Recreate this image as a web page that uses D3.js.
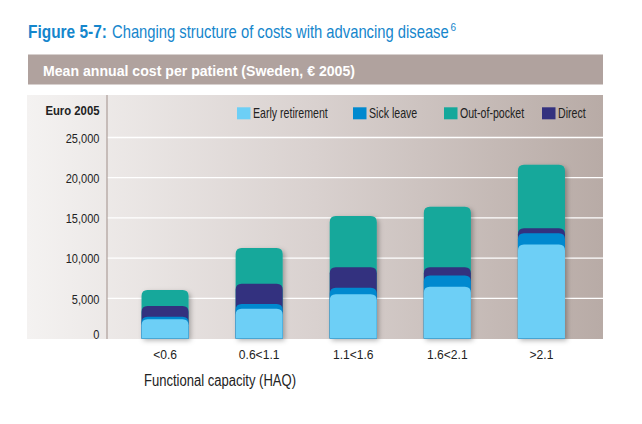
<!DOCTYPE html>
<html><head><meta charset="utf-8">
<script src="https://cdn.jsdelivr.net/npm/d3@7"></script>
<style>
html,body{margin:0;padding:0;background:#fff;}
svg{display:block;}
text{font-family:"Liberation Sans",Arial,sans-serif;}
</style></head>
<body>
<script>
const categories = ["<0.6","0.6<1.1","1.1<1.6","1.6<2.1",">2.1"];
const seriesNames = ["Early retirement","Sick leave","Direct","Out-of-pocket"];
const earlyRetirement = [2400, 3700, 5500, 6450, 11700];
const sickLeave = [300, 600, 800, 1400, 1400];
const direct = [1330, 2500, 2550, 1000, 600];
const outOfPocket = [2000, 4450, 6400, 7550, 7900];
const yTicks = [0, 5000, 10000, 15000, 20000, 25000];
const legendOrder = ["Early retirement","Sick leave","Out-of-pocket","Direct"];
const colors = {"Early retirement":"#6dcff6","Sick leave":"#0089cf","Out-of-pocket":"#14a89b","Direct":"#33317f"};

const W = 642, H = 424;
const svg = d3.select("body").append("svg").attr("width", W).attr("height", H);
const defs = svg.append("defs");
const grad = defs.append("linearGradient").attr("id","bg").attr("x1","0").attr("x2","1").attr("y1","0").attr("y2","0");
grad.append("stop").attr("offset","0").attr("stop-color","#f4f2f1");
grad.append("stop").attr("offset","0.5").attr("stop-color","#d9d1cf");
grad.append("stop").attr("offset","1").attr("stop-color","#b8aba6");
const f = defs.append("filter").attr("id","sh").attr("x","-30%").attr("y","-30%").attr("width","170%").attr("height","170%");
f.append("feDropShadow").attr("dx",2).attr("dy",2).attr("stdDeviation",2.5).attr("flood-color","#000").attr("flood-opacity",0.3);

// condense text horizontally (narrow typeface look)
function condense(sel, k) {
  sel.each(function() {
    const L = this.getComputedTextLength();
    d3.select(this).attr("textLength", L * k).attr("lengthAdjust", "spacingAndGlyphs");
  });
}
// condense via transform so the box matches the drawn glyphs
function squeezeTo(x0, y0, sel, width) {
  const L = sel.node().getComputedTextLength();
  sel.attr("x", 0).attr("y", 0).attr("transform", `translate(${x0},${y0}) scale(${width / L},1)`);
}

// Title
const tA = svg.append("text").attr("fill", "#1586cc").attr("font-size", 17.5).attr("font-weight","bold").text("Figure 5-7:");
squeezeTo(28, 38, tA, 79);
const tB = svg.append("text").attr("fill", "#1586cc").attr("font-size", 17.5).text("Changing structure of costs with advancing disease");
squeezeTo(112, 38, tB, 337);
svg.append("text").attr("x", 450.5).attr("y", 31).attr("fill", "#1586cc").attr("font-size", 10).text("6");

// Header bar
svg.append("rect").attr("x", 28).attr("y", 54.5).attr("width", 575).attr("height", 30).attr("fill", "#b0a29e");
svg.append("text").attr("x", 43).attr("y", 76.3).attr("fill", "#fff").attr("font-size", 15.5).attr("font-weight","bold")
  .text("Mean annual cost per patient (Sweden, € 2005)")
  .attr("textLength", 312).attr("lengthAdjust","spacingAndGlyphs");

// Plot background
const plotL = 27, plotR = 603, plotT = 95, plotB = 339;
svg.append("rect").attr("x", plotL).attr("y", plotT).attr("width", plotR - plotL).attr("height", plotB - plotT).attr("fill", "url(#bg)");

const y = d3.scaleLinear().domain([0, 25000]).range([338.5, 137.5]);
const x = d3.scaleBand().domain(categories).range([118, 588.5]).paddingInner(0.5).paddingOuter(0.25);
const axisX = 107;

// gridlines
svg.append("g").selectAll("line").data(yTicks.filter(d => d > 0)).join("line")
  .attr("x1", axisX).attr("x2", plotR).attr("y1", d => y(d)).attr("y2", d => y(d))
  .attr("stroke", "#fff").attr("stroke-width", 1.3);

// y axis line
svg.append("line").attr("x1", axisX).attr("x2", axisX).attr("y1", plotT).attr("y2", plotB).attr("stroke", "#a08f8a").attr("stroke-width", 1);

// y labels via axis
const yAxis = d3.axisLeft(y).tickValues(yTicks).tickSize(0).tickPadding(0).tickFormat(d3.format(","));
const ya = svg.append("g").attr("transform", `translate(99.5,0)`).call(yAxis);
ya.select(".domain").remove();
ya.selectAll("text").attr("font-size", 12).attr("fill", "#222")
  .attr("font-family", '"Liberation Sans",Arial,sans-serif')
  .attr("dy", d => d === 0 ? "0em" : "0.4em");
condense(ya.selectAll("text"), 0.92);
const eu = svg.append("text").attr("x", 99.5).attr("y", 115).attr("text-anchor","end").attr("font-size", 13).attr("font-weight","bold").attr("fill","#222").text("Euro 2005");
condense(eu, 0.87);

// stacked bars
const data = categories.map((c, i) => ({cat: c, "Early retirement": earlyRetirement[i], "Sick leave": sickLeave[i], "Direct": direct[i], "Out-of-pocket": outOfPocket[i]}));
const stack = d3.stack().keys(seriesNames)(data);
const r = 6;
function roundTop(x0, y0, w, yb) {
  const rr = Math.min(r, (yb - y0));
  return `M${x0},${yb}V${y0 + rr}Q${x0},${y0} ${x0 + rr},${y0}H${x0 + w - rr}Q${x0 + w},${y0} ${x0 + w},${y0 + rr}V${yb}Z`;
}
const barsG = svg.append("g");
const order = stack.slice().reverse();
categories.forEach((c, i) => {
  const g = barsG.append("g");
  order.forEach((s, k) => {
    const d = s[i];
    g.append("path")
      .attr("d", roundTop(x(c), y(d[1]), x.bandwidth(), y(0)))
      .attr("fill", colors[s.key])
      .attr("filter", k === 0 ? "url(#sh)" : null);
  });
});

// x labels
const xa = svg.append("g").attr("transform", `translate(0,${plotB})`).call(d3.axisBottom(x).tickSize(0).tickPadding(10.5));
xa.select(".domain").remove();
xa.selectAll("text").attr("font-size", 13).attr("fill", "#222").attr("font-family", '"Liberation Sans",Arial,sans-serif');
condense(xa.selectAll("text"), 0.93);

svg.append("text").attr("x", 144).attr("y", 386).attr("font-size", 16).attr("fill", "#222").text("Functional capacity (HAQ)")
  .attr("textLength", 152).attr("lengthAdjust","spacingAndGlyphs");

// legend
const legX = [237, 353, 444, 542];
const lg = svg.append("g");
legendOrder.forEach((n, i) => {
  lg.append("rect").attr("x", legX[i]).attr("y", 107.3).attr("width", 13.5).attr("height", 12).attr("fill", colors[n]);
  const tx = lg.append("text").attr("x", legX[i] + 16).attr("y", 118.3).attr("font-size", 14.5).attr("fill", "#222").text(n);
  condense(tx, 0.73);
});
</script>
</body></html>
